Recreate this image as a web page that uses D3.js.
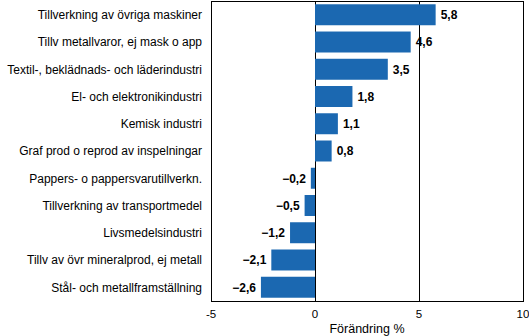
<!DOCTYPE html>
<html>
<head>
<meta charset="utf-8">
<script src="https://cdn.jsdelivr.net/npm/d3@7"></script>
<style>
  body { margin: 0; background: #fff; }
  svg { display: block; }
</style>
</head>
<body>
<div id="chart"></div>
<script>
// Datos
const categories = [
  "Tillverkning av övriga maskiner",
  "Tillv metallvaror, ej mask o app",
  "Textil-, beklädnads- och läderindustri",
  "El- och elektronikindustri",
  "Kemisk industri",
  "Graf prod o reprod av inspelningar",
  "Pappers- o pappersvarutillverkn.",
  "Tillverkning av transportmedel",
  "Livsmedelsindustri",
  "Tillv av övr mineralprod, ej metall",
  "Stål- och metallframställning"
];
const values = [5.8, 4.6, 3.5, 1.8, 1.1, 0.8, -0.2, -0.5, -1.2, -2.1, -2.6];
const xTicks = [-5, 0, 5, 10];
const gridLines = [0, 5];
const axisTitle = "Förändring  %";

const W = 529, H = 336;
const m = { top: 1, right: 6, bottom: 35, left: 211 };

const svg = d3.select("#chart").append("svg")
  .attr("width", W).attr("height", H);

const x = d3.scaleLinear().domain([-5, 10]).range([m.left, W - m.right]);
const y = d3.scaleBand().domain(categories).range([m.top, H - m.bottom])
  .paddingInner(0.23).paddingOuter(0.12);

// líneas verticales de referencia
svg.append("g").selectAll("line")
  .data(gridLines)
  .join("line")
    .attr("x1", d => x(d) + 0.5).attr("x2", d => x(d) + 0.5)
    .attr("y1", m.top).attr("y2", H - m.bottom)
    .attr("stroke", "#000").attr("stroke-width", 1);

// barras
svg.append("g").selectAll("rect")
  .data(values)
  .join("rect")
    .attr("x", d => x(Math.min(0, d)))
    .attr("width", d => Math.abs(x(d) - x(0)))
    .attr("y", (d, i) => y(categories[i]))
    .attr("height", y.bandwidth())
    .attr("fill", "#1b68b1");

// etiquetas de valor
svg.append("g").selectAll("text")
  .data(values)
  .join("text")
    .attr("x", d => d >= 0 ? x(d) + 5 : x(d) - 5)
    .attr("y", (d, i) => y(categories[i]) + y.bandwidth() / 2)
    .attr("dy", "0.36em")
    .attr("text-anchor", d => d >= 0 ? "start" : "end")
    .attr("font-family", "'Liberation Sans Narrow', 'Arial Narrow', Arial, sans-serif")
    .attr("font-weight", "bold")
    .attr("font-size", 12)
    .attr("fill", "#000")
    .text(d => d3.format(".1f")(d).replace(".", ",").replace("-", "–"));

// nombres de categorías
svg.append("g").selectAll("text")
  .data(categories)
  .join("text")
    .attr("x", m.left - 9)
    .attr("y", d => y(d) + y.bandwidth() / 2)
    .attr("dy", "0.36em")
    .attr("text-anchor", "end")
    .attr("font-family", "Arial, 'Liberation Sans', sans-serif")
    .attr("font-size", 12)
    .attr("fill", "#000")
    .text(d => d);

// marco
svg.append("rect")
  .attr("x", m.left + 0.5).attr("y", m.top + 0.5)
  .attr("width", W - m.right - m.left).attr("height", H - m.bottom - m.top)
  .attr("fill", "none").attr("stroke", "#000");

// etiquetas del eje x
svg.append("g").selectAll("text")
  .data(xTicks)
  .join("text")
    .attr("x", d => x(d))
    .attr("y", H - m.bottom + 17)
    .attr("text-anchor", "middle")
    .attr("font-family", "Arial, 'Liberation Sans', sans-serif")
    .attr("font-size", 11.5)
    .text(d => d);

svg.append("text")
  .attr("x", x(2.5))
  .attr("y", H - 3)
  .attr("text-anchor", "middle")
  .attr("font-family", "Arial, 'Liberation Sans', sans-serif")
  .attr("font-size", 12.5)
  .text(axisTitle);
</script>
</body>
</html>
